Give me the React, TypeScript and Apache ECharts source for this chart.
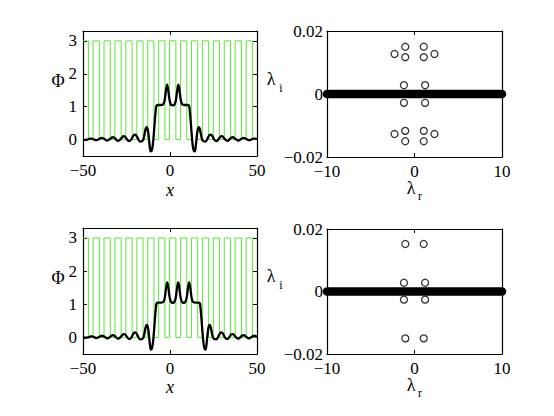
import React, { useEffect, useRef } from 'react';
import * as echarts from 'echarts';

// ---- Potential (square wave): barrier intervals where V = 3, else V = 0 ----
const barrierStart = [-50.49, -44.21, -37.93, -31.65, -25.36, -19.08, -12.8, -6.51, -0.23, 6.05, 12.34, 18.62, 24.9, 31.19, 37.47, 43.75];
const barrierEnd = [-46.89, -40.61, -34.33, -28.05, -21.76, -15.48, -9.2, -2.91, 3.37, 9.65, 15.94, 22.22, 28.5, 34.79, 41.07, 47.35];
const barrierHeight = 3;

// ---- Top-left soliton Φ(x) ----
const phiTopX = [
  -50, -48.7, -47.5, -46.46, -45.66, -44.86, -43.86, -42.46, -41.26, -40.26, -39.36, -38.46, -37.46, -36.16,
  -34.96, -33.96, -33.06, -32.16, -31.16, -29.86, -28.66, -27.66, -26.76, -25.86, -24.86, -23.56, -22.26,
  -21.26, -20.36, -19.46, -18.36, -17.26, -16.16, -15.36, -14.66, -13.96, -13.36, -12.66, -12.06, -11.56,
  -11.06, -10.46, -9.86, -9.26, -8.76, -8.26, -7.76, -6.66, -5.06, -3.86, -3.06, -2.36, -1.66, -0.96, -0.26,
  0.54, 1.57, 2.6, 3.4, 4.1, 4.8, 5.5, 6.2, 7.0, 8.2, 9.8, 10.9, 11.4, 11.9, 12.4, 13.0, 13.6, 14.2, 14.7,
  15.2, 15.8, 16.5, 17.1, 17.8, 18.5, 19.3, 20.4, 21.5, 22.6, 23.5, 24.4, 25.4, 26.7, 28.0, 29.0, 29.9, 30.8,
  31.8, 33.0, 34.3, 35.3, 36.2, 37.1, 38.1, 39.3, 40.6, 41.6, 42.5, 43.4, 44.4, 45.6, 47.0, 48.0, 48.8, 49.6, 50
];
const phiTopY = [
  0.01, -0.01, 0.0, 0.02, 0.03, 0.03, 0.01, -0.02, 0.0, 0.03, 0.05, 0.04, 0.01, -0.03,
  0.0, 0.04, 0.07, 0.06, 0.01, -0.04, 0.0, 0.06, 0.1, 0.09, 0.02, -0.05, 0.0,
  0.1, 0.15, 0.13, 0.02, -0.06, -0.05, 0.0, 0.15, 0.33, 0.38, 0.27, 0.0, -0.25,
  -0.36, -0.33, -0.15, 0.2, 0.55, 0.85, 1.03, 1.05, 1.05, 1.07, 1.2, 1.48, 1.67, 1.48, 1.2,
  1.06, 1.04, 1.06, 1.2, 1.48, 1.67, 1.48, 1.2, 1.07, 1.05, 1.05, 1.03, 0.85, 0.55, 0.2, -0.15, -0.33, -0.36, -0.25,
  0.0, 0.27, 0.38, 0.33, 0.15, 0.0, -0.05, -0.06, 0.02, 0.13, 0.15, 0.1, 0.0, -0.05, 0.02, 0.09, 0.1, 0.06,
  0.0, -0.04, 0.01, 0.06, 0.07, 0.04, 0.0, -0.03, 0.01, 0.04, 0.05, 0.03, 0.0, -0.02, 0.01, 0.03, 0.03, 0.02, 0.01
];

// ---- Bottom-left soliton Φ(x) ----
const phiBotX = [
  -50, -48.7, -47.5, -46.5, -45.6, -44.7, -43.7, -42.4, -41.2, -40.18, -39.28, -38.38, -37.38, -36.08, -34.88,
  -33.88, -32.98, -32.08, -31.08, -29.78, -28.58, -27.58, -26.68, -25.78, -24.78, -23.48, -22.18, -21.18,
  -20.28, -19.38, -18.28, -17.18, -16.08, -15.28, -14.58, -13.88, -13.28, -12.58, -11.98, -11.48, -10.98,
  -10.38, -9.78, -9.18, -8.68, -8.18, -7.68, -6.58, -4.98, -3.78, -2.98, -2.28, -1.58, -0.88, -0.18, 0.62,
  1.57, 2.52, 3.32, 4.02, 4.71, 5.4, 6.1, 6.9, 7.85, 8.8, 9.6, 10.3, 11.0, 11.7, 12.4, 13.2, 14.4, 16.0, 17.1,
  17.6, 18.1, 18.6, 19.2, 19.8, 20.4, 20.9, 21.4, 22.0, 22.7, 23.3, 24.0, 24.7, 25.5, 26.6, 27.7, 28.8, 29.7,
  30.6, 31.6, 32.9, 34.2, 35.2, 36.1, 37.0, 38.0, 39.2, 40.5, 41.5, 42.4, 43.3, 44.3, 45.5, 46.8, 47.8, 48.7, 49.6, 50
];
const phiBotY = [
  0.01, -0.01, 0.0, 0.01, 0.03, 0.03, 0.01, -0.02, 0.0, 0.03, 0.05, 0.04, 0.01, -0.03, 0.0,
  0.04, 0.07, 0.06, 0.01, -0.04, 0.0, 0.06, 0.1, 0.09, 0.02, -0.05, 0.0, 0.1,
  0.15, 0.13, 0.02, -0.06, -0.05, 0.0, 0.15, 0.33, 0.38, 0.27, 0.0, -0.25, -0.37,
  -0.33, -0.15, 0.2, 0.55, 0.85, 1.03, 1.05, 1.05, 1.07, 1.2, 1.48, 1.66, 1.48, 1.2, 1.07,
  1.04, 1.07, 1.2, 1.48, 1.66, 1.48, 1.2, 1.07, 1.04, 1.07, 1.2, 1.48, 1.66, 1.48, 1.2, 1.07, 1.05, 1.05, 1.03,
  0.85, 0.55, 0.2, -0.15, -0.33, -0.37, -0.25, 0.0, 0.27, 0.38, 0.33, 0.15, 0.0, -0.05, -0.06, 0.02, 0.13, 0.15,
  0.1, 0.0, -0.05, 0.02, 0.09, 0.1, 0.06, 0.0, -0.04, 0.01, 0.06, 0.07, 0.04, 0.0, -0.03, 0.01, 0.04, 0.05, 0.03, 0.02
];

// ---- Spectra: continuous band on the real axis + discrete eigenvalues ----
const bandRe = [-10, 10];
const topEigRe = [-1.06, 1.06, -1.06, 1.06, -2.28, 2.28, -1.21, 1.21, -1.21, 1.21, -2.28, 2.28, -1.06, 1.06, -1.06, 1.06];
const topEigIm = [0.015, 0.015, 0.0117, 0.0117, 0.0127, 0.0127, 0.0028, 0.0028, -0.0028, -0.0028, -0.0127, -0.0127, -0.0117, -0.0117, -0.015, -0.015];
const botEigRe = [-1.05, 1.05, -1.21, 1.21, -1.21, 1.21, -1.05, 1.05];
const botEigIm = [0.0152, 0.0152, 0.0028, 0.0028, -0.0026, -0.0026, -0.015, -0.015];

// ---- Axis ticks ----
const phiTicks = [0, 1, 2, 3];
const xRangeLeft = [-50, 50];
const xRangeRight = [-10, 10];
const yRangeLeft = [-0.5, 3.3];
const yRangeRight = [-0.02, 0.02];

const FONT = 'serif';
const GREEN = '#5ee63a';

const minusFmt = (v: number) => (v < 0 ? '\u2212' + String(Math.abs(v)) : String(v));

function zip(xs: number[], ys: number[]) {
  return xs.map((x, i) => [x, ys[i]]);
}

function squareWave(starts: number[], ends: number[], h: number, xmin: number, xmax: number) {
  const pts: number[][] = [];
  let first = true;
  for (let i = 0; i < starts.length; i++) {
    const s = Math.max(starts[i], xmin);
    const e = Math.min(ends[i], xmax);
    if (first) {
      if (s > xmin) pts.push([xmin, 0]);
      first = false;
    }
    if (s > xmin) pts.push([s, 0]);
    pts.push([s, h]);
    pts.push([e, h]);
    if (e < xmax) pts.push([e, 0]);
  }
  const last = pts[pts.length - 1];
  if (last[0] < xmax) pts.push([xmax, 0]);
  return pts;
}

function buildOption() {
  const grids = [
    { left: 83, top: 31, width: 174, height: 125 },
    { left: 327, top: 31, width: 175, height: 126 },
    { left: 83, top: 228, width: 174, height: 126 },
    { left: 327, top: 229, width: 175, height: 125 },
  ];
  const axisLine = { show: true, onZero: false, lineStyle: { color: '#000', width: 1.2 } };
  const tick = (custom?: number[]) => ({
    show: true,
    inside: true,
    length: 4,
    lineStyle: { color: '#000', width: 1 },
    ...(custom ? { customValues: custom } : {}),
  });
  const label = { color: '#000', fontFamily: FONT, fontSize: 17 };

  const xAxis: any[] = [];
  const yAxis: any[] = [];
  grids.forEach((_, gi) => {
    const left = gi % 2 === 0;
    const xr = left ? xRangeLeft : xRangeRight;
    const yr = left ? yRangeLeft : yRangeRight;
    const xi = left ? 50 : 10;
    xAxis.push({
      type: 'value', gridIndex: gi, min: xr[0], max: xr[1], interval: xi, position: 'bottom',
      axisLine, axisTick: tick(), splitLine: { show: false },
      axisLabel: { ...label, margin: 6, formatter: minusFmt, showMinLabel: true, showMaxLabel: true },
    });
    xAxis.push({
      type: 'value', gridIndex: gi, min: xr[0], max: xr[1], interval: xi, position: 'top',
      axisLine, axisTick: tick(), splitLine: { show: false }, axisLabel: { show: false },
    });
    if (left) {
      yAxis.push({
        type: 'value', gridIndex: gi, min: yr[0], max: yr[1], position: 'left',
        axisLine, axisTick: tick(phiTicks), splitLine: { show: false },
        axisLabel: { ...label, margin: 6, customValues: phiTicks, formatter: minusFmt },
      });
      yAxis.push({
        type: 'value', gridIndex: gi, min: yr[0], max: yr[1], position: 'right',
        axisLine, axisTick: tick(phiTicks), splitLine: { show: false }, axisLabel: { show: false },
      });
    } else {
      yAxis.push({
        type: 'value', gridIndex: gi, min: yr[0], max: yr[1], interval: 0.02, position: 'left',
        axisLine, axisTick: tick(), splitLine: { show: false },
        axisLabel: { ...label, margin: 4, formatter: (v: number) => minusFmt(Math.round(v * 100) / 100), showMinLabel: true, showMaxLabel: true },
      });
      yAxis.push({
        type: 'value', gridIndex: gi, min: yr[0], max: yr[1], interval: 0.02, position: 'right',
        axisLine, axisTick: tick(), splitLine: { show: false }, axisLabel: { show: false },
      });
    }
  });

  const wave = squareWave(barrierStart, barrierEnd, barrierHeight, xRangeLeft[0], xRangeLeft[1]);
  const series: any[] = [];
  const addLeft = (gi: number, xs: number[], ys: number[]) => {
    series.push({
      type: 'line', xAxisIndex: gi * 2, yAxisIndex: gi * 2, data: wave, showSymbol: false, symbol: 'none',
      lineStyle: { color: GREEN, width: 1 }, z: 2, silent: true,
    });
    series.push({
      type: 'line', xAxisIndex: gi * 2, yAxisIndex: gi * 2, data: zip(xs, ys), showSymbol: false, symbol: 'none',
      smooth: 0.35, lineStyle: { color: '#000', width: 2.3 }, z: 3, silent: true,
    });
  };
  const addRight = (gi: number, re: number[], im: number[]) => {
    series.push({
      type: 'line', xAxisIndex: gi * 2, yAxisIndex: gi * 2, data: bandRe.map((x) => [x, 0]), showSymbol: false,
      symbol: 'none', clip: false, lineStyle: { color: '#000', width: 8.5, cap: 'round' }, z: 3, silent: true,
    });
    series.push({
      type: 'scatter', xAxisIndex: gi * 2, yAxisIndex: gi * 2, data: zip(re, im), symbol: 'circle', symbolSize: 7,
      itemStyle: { color: '#fff', borderColor: '#000', borderWidth: 1.3 }, z: 4, silent: true,
    });
  };
  addLeft(0, phiTopX, phiTopY);
  addRight(1, topEigRe, topEigIm);
  addLeft(2, phiBotX, phiBotY);
  addRight(3, botEigRe, botEigIm);

  const txt = (x: number, y: number, text: string, size = 16, italic = false) => ({
    type: 'text', x, y,
    style: { text, fill: '#000', fontFamily: FONT, fontSize: size, fontStyle: italic ? 'italic' : 'normal', align: 'center', verticalAlign: 'middle' },
  });
  const dy = 197;
  const graphic = [
    txt(58, 81, 'Φ', 18), txt(58, 81 + dy, 'Φ', 18),
    txt(170, 190, 'x', 18, true), txt(170, 190 + dy, 'x', 18, true),
    txt(271, 79, 'λ', 18), txt(281, 88, 'i', 12),
    txt(271, 79 + dy, 'λ', 18), txt(281, 88 + dy, 'i', 12),
    txt(411, 188, 'λ', 18), txt(420, 196, 'r', 12),
    txt(411, 188 + dy, 'λ', 18), txt(420, 196 + dy, 'r', 12),
  ];

  return { animation: false, backgroundColor: '#fff', grid: grids, xAxis, yAxis, series, graphic };
}

export default function App() {
  const ref = useRef<HTMLDivElement>(null);
  useEffect(() => {
    if (!ref.current) return;
    const chart = echarts.init(ref.current, null, { renderer: 'svg' });
    chart.setOption(buildOption() as any);
    return () => chart.dispose();
  }, []);
  return <div ref={ref} style={{ position: 'fixed', left: 0, top: 0, width: 554, height: 416, background: '#fff' }} />;
}
